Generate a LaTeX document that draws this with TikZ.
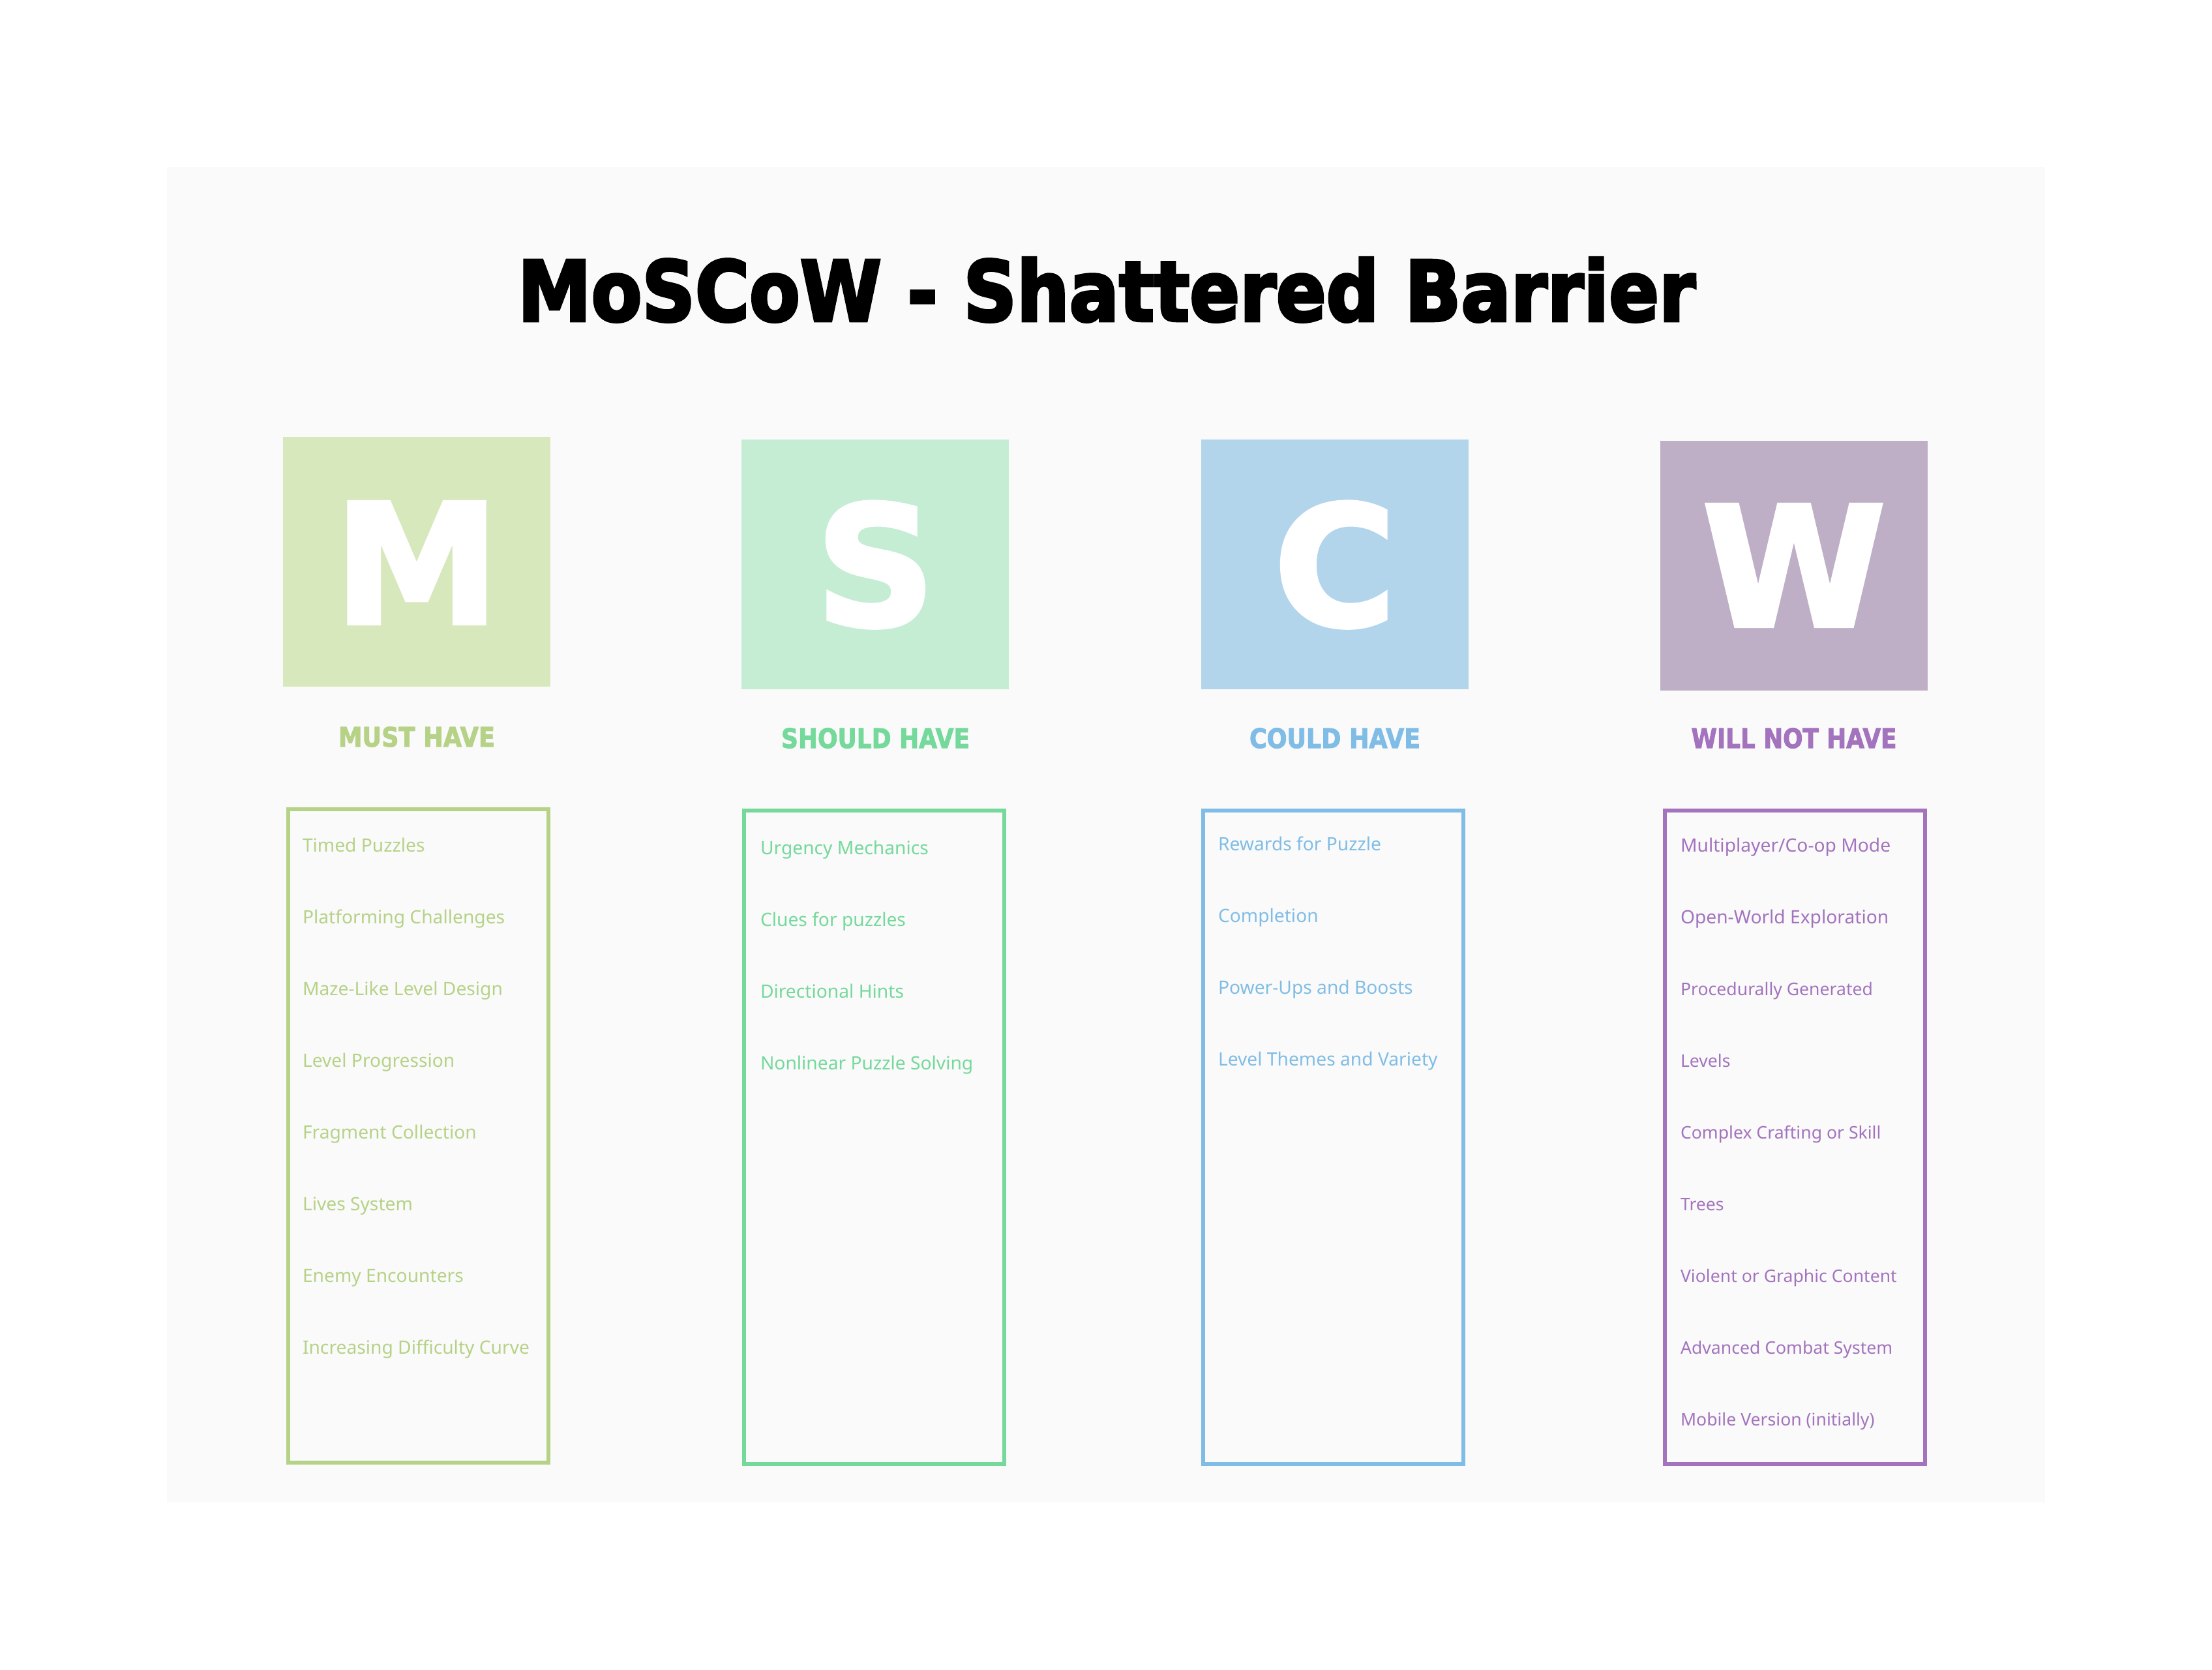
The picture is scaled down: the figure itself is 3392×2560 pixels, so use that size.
\documentclass[tikz,border=0pt]{standalone}
\usepackage{graphicx}
\usepackage{fontspec}
\setmainfont{Noto Sans}
\newfontfamily\heavyfont{DejaVu Sans}[BoldFeatures={FakeBold=2.5}]
\newfontfamily\titlefont{DejaVu Sans}[BoldFeatures={FakeBold=3.5}]
\definecolor{bgc}{HTML}{FAFAFA}
\definecolor{Mcol}{HTML}{B6D287}
\definecolor{Mfill}{HTML}{D8E8BD}
\definecolor{Scol}{HTML}{74D99B}
\definecolor{Sfill}{HTML}{C5EDD4}
\definecolor{Ccol}{HTML}{80BDE6}
\definecolor{Cfill}{HTML}{B3D5EB}
\definecolor{Wcol}{HTML}{A373BE}
\definecolor{Wfill}{HTML}{BEAFC6}
\newcommand\fitwidth[2]{\resizebox{#1}{\height}{#2}}
\begin{document}
\begin{tikzpicture}[x=0.25pt,y=-0.25pt,
  every node/.style={outer sep=0pt, inner sep=0pt},
  panel/.style={fill=bgc, draw=none, anchor=north west, minimum width=720pt, minimum height=512pt},
  lbox/.style={fill=#1, draw=none, anchor=north west, minimum width=102.5pt, minimum height=95.75pt},
  letter/.style={text=white, anchor=base, font=\heavyfont\bfseries\fontsize{63.8pt}{64pt}\selectfont},
  head/.style={text=#1, anchor=base, font=\heavyfont\bfseries\fontsize{10.3pt}{11pt}\selectfont},
  listbox/.style={draw=#1, line width=1.5pt, fill=none, anchor=north west, minimum width=99.75pt, minimum height=250.5pt},
  itemtxt/.style={text=#1, anchor=base west, font=\fontsize{7.05pt}{8pt}\selectfont},
  smalltxt/.style={font=\fontsize{6.65pt}{8pt}\selectfont},
  titletxt/.style={text=black, anchor=base, font=\titlefont\bfseries\fontsize{31.9pt}{32pt}\selectfont}
]
% page
\fill[white] (0,0) rectangle (3392,2560);
\useasboundingbox (0,0) rectangle (3392,2560);
\node[panel] (panel) at (256,256) {};
% title
\node[titletxt] (title) at (1697,492) {\fitwidth{451.5pt}{MoSCoW - Shattered Barrier}};
% letter boxes
\node[lbox=Mfill] (Mbox) at (434,670) {};
\node[lbox=Sfill] (Sbox) at (1137,674) {};
\node[lbox=Cfill] (Cbox) at (1842,674) {};
\node[lbox=Wfill] (Wbox) at (2546,676) {};
\node[letter] (Mlet) at (639,956) {M};
\node[letter] (Slet) at (1342.5,959) {S};
\node[letter] (Clet) at (2047,959) {C};
\node[letter] (Wlet) at (2751,960) {W};
% headings
\node[head=Mcol] (Mhead) at (639,1145) {\fitwidth{60pt}{MUST HAVE}};
\node[head=Scol] (Shead) at (1342.5,1147) {\fitwidth{72.25pt}{SHOULD HAVE}};
\node[head=Ccol] (Chead) at (2047,1147) {\fitwidth{65.5pt}{COULD HAVE}};
\node[head=Wcol] (Whead) at (2751,1147) {\fitwidth{78.75pt}{WILL NOT HAVE}};
% list boxes
\node[listbox=Mcol] (Mlist) at (441.5,1241) {};
\node[listbox=Scol] (Slist) at (1141,1243) {};
\node[listbox=Ccol] (Clist) at (1845,1243) {};
\node[listbox=Wcol] (Wlist) at (2553,1243) {};
% items
\foreach \t [count=\i from 0] in {{Timed Puzzles},{Platforming Challenges},{Maze-Like Level Design},{Level Progression},{Fragment Collection},{Lives System},{Enemy Encounters},{Increasing Difficulty Curve}}
  \node[itemtxt=Mcol] (M\i) at (464,1306.5+110*\i) {\t};
\foreach \t [count=\i from 0] in {{Urgency Mechanics},{Clues for puzzles},{Directional Hints},{Nonlinear Puzzle Solving}}
  \node[itemtxt=Scol] (S\i) at (1166,1310+110*\i) {\t};
\foreach \t [count=\i from 0] in {{Rewards for Puzzle},{Completion},{Power-Ups and Boosts},{Level Themes and Variety}}
  \node[itemtxt=Ccol] (C\i) at (1868,1304+110*\i) {\t};
\node[itemtxt=Wcol] (W0) at (2577,1306.5) {Multiplayer/Co-op Mode};
\node[itemtxt=Wcol] (W1) at (2577,1416.5) {Open-World Exploration};
\foreach \t [count=\i from 2] in {{Procedurally Generated},{Levels},{Complex Crafting or Skill},{Trees},{Violent or Graphic Content},{Advanced Combat System},{Mobile Version (initially)}}
  \node[itemtxt=Wcol, smalltxt] (W\i) at (2577,1306.5+110*\i) {\t};
\end{tikzpicture}
\end{document}
